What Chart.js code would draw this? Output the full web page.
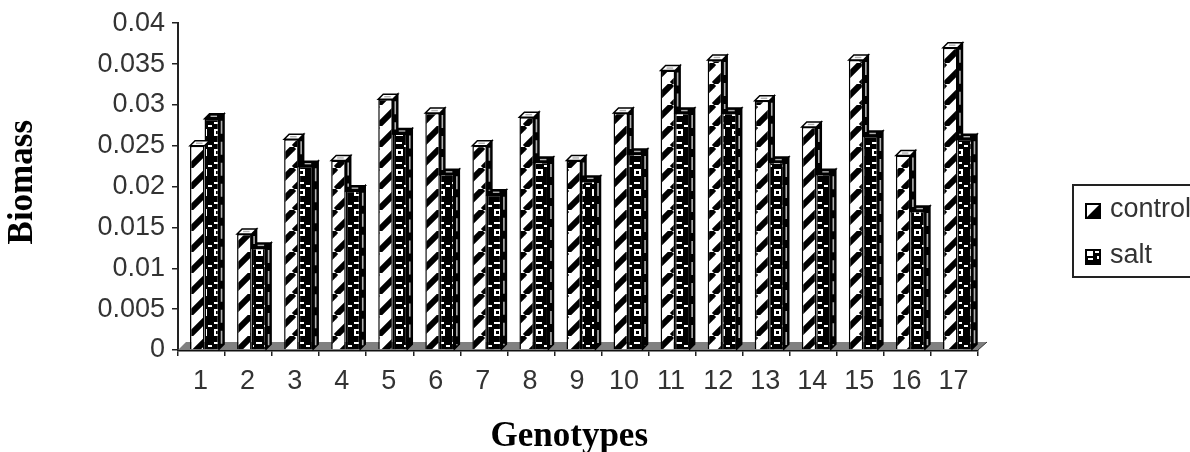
<!DOCTYPE html>
<html>
<head>
<meta charset="utf-8">
<script src="https://cdn.jsdelivr.net/npm/chart.js@4"></script>
<style>
  html, body { margin: 0; padding: 0; background: #fff; overflow: hidden; }
  #wrap { width: 1190px; height: 452px; }
  canvas { filter: blur(0.5px); }
</style>
</head>
<body>
<div id="wrap"><canvas id="c" width="1190" height="452"></canvas></div>
<script>
const genotypes = ['1','2','3','4','5','6','7','8','9','10','11','12','13','14','15','16','17'];
const control = [0.0250,0.0142,0.0258,0.0232,0.0307,0.0290,0.0250,0.0285,0.0232,0.0290,0.0342,0.0355,0.0305,0.0273,0.0355,0.0238,0.0370];
const salt = [0.0283,0.0125,0.0225,0.0195,0.0265,0.0215,0.0190,0.0230,0.0207,0.0240,0.0290,0.0290,0.0230,0.0215,0.0262,0.0170,0.0258];

const DEPTH = 5;
const BAR_SHIFT = 3;

function stripePattern() {
    const t = document.createElement('canvas');
    t.width = t.height = 21;
    const g = t.getContext('2d');
    g.fillStyle = '#fff';
    g.fillRect(0, 0, 21, 21);
    g.strokeStyle = '#000';
    g.lineWidth = 6;
    [-21, 0, 21].forEach(o => {
        g.beginPath();
        g.moveTo(o, 21);
        g.lineTo(o + 21, 0);
        g.stroke();
    });
    return g.createPattern(t, 'repeat');
}

function ringPattern() {
    const t = document.createElement('canvas');
    t.width = 14;
    t.height = 20;
    const g = t.getContext('2d');
    g.fillStyle = '#000';
    g.fillRect(0, 0, 14, 20);
    g.fillStyle = '#fff';
    g.fillRect(4, 9, 7, 7);
    g.fillRect(4, 2, 6, 2);
    g.fillRect(0, 5, 2, 2);
    g.fillRect(12, 5, 2, 2);
    g.fillStyle = '#000';
    g.fillRect(6, 11, 3, 3);
    return g.createPattern(t, 'repeat');
}

const stripes = stripePattern();
const rings = ringPattern();

const floorAndFrame = {
    id: 'floorAndFrame',
    afterDatasetsUpdate(chart) {
        chart.getSortedVisibleDatasetMetas().forEach(m => m.data.forEach(b => { b.x += BAR_SHIFT; }));
    },
    beforeDatasetsDraw(chart) {
        const { ctx, chartArea: a } = chart;
        ctx.save();
        ctx.fillStyle = '#808080';
        ctx.strokeStyle = '#333';
        ctx.lineWidth = 1;
        ctx.beginPath();
        ctx.moveTo(a.left, a.bottom);
        ctx.lineTo(a.left + 8, a.bottom - 8);
        ctx.lineTo(a.right + 9, a.bottom - 8);
        ctx.lineTo(a.right, a.bottom);
        ctx.closePath();
        ctx.fill();
        ctx.beginPath();
        ctx.moveTo(a.right + 9, a.bottom - 8);
        ctx.lineTo(a.right, a.bottom);
        ctx.stroke();
        ctx.restore();
    },
    afterDatasetDraw(chart, args) {
        // 3D faces. Control is painted after salt, so its side stops at the salt top.
        const { ctx } = chart;
        const saltBars = chart.getDatasetMeta(1).data;
        ctx.save();
        args.meta.data.forEach((bar, i) => {
            const p = bar.getProps(['x', 'y', 'base', 'width'], true);
            const l = p.x - p.width / 2;
            const r = p.x + p.width / 2;
            const sideEnd = args.index === 0 ? saltBars[i].y : p.base;
            ctx.lineWidth = 1.5;
            ctx.strokeStyle = '#000';
            if (sideEnd > p.y) {
                ctx.fillStyle = '#000';
                ctx.beginPath();
                ctx.moveTo(r, p.y);
                ctx.lineTo(r + DEPTH, p.y - DEPTH);
                ctx.lineTo(r + DEPTH, sideEnd - DEPTH);
                ctx.lineTo(r, sideEnd);
                ctx.closePath();
                ctx.fill();
                ctx.stroke();
                ctx.save();
                ctx.strokeStyle = '#b0b0b0';
                ctx.lineWidth = 1.6;
                ctx.setLineDash([13, 8]);
                ctx.beginPath();
                ctx.moveTo(r + DEPTH / 2, p.y + 2);
                ctx.lineTo(r + DEPTH / 2, sideEnd - 4);
                ctx.stroke();
                ctx.restore();
            }
            ctx.fillStyle = args.index === 0 ? '#fff' : '#000';
            ctx.beginPath();
            ctx.moveTo(l, p.y);
            ctx.lineTo(l + DEPTH, p.y - DEPTH);
            ctx.lineTo(r + DEPTH, p.y - DEPTH);
            ctx.lineTo(r, p.y);
            ctx.closePath();
            ctx.fill();
            ctx.stroke();
            ctx.strokeStyle = '#b0b0b0';
            ctx.lineWidth = 1.4;
            ctx.beginPath();
            ctx.moveTo(l + 6, p.y - DEPTH / 2);
            ctx.lineTo(r - 2, p.y - DEPTH / 2);
            ctx.stroke();
        });
        ctx.restore();
    },
    afterDraw(chart) {
        const { ctx } = chart;
        ctx.save();
        ctx.strokeStyle = '#222';
        ctx.lineWidth = 2;
        ctx.strokeRect(1073, 185, 140, 92);
        ctx.fillStyle = '#333';
        ctx.font = '27px "Liberation Sans"';
        ctx.textBaseline = 'middle';
        ctx.fillText(chart.data.datasets[0].label, 1110, 210);
        ctx.fillText(chart.data.datasets[1].label, 1110, 256);
        // control swatch: white corner over black
        ctx.fillStyle = '#000';
        ctx.fillRect(1085, 203, 16, 16);
        ctx.fillStyle = '#fff';
        ctx.beginPath();
        ctx.moveTo(1087, 205);
        ctx.lineTo(1099, 205);
        ctx.lineTo(1087, 217);
        ctx.closePath();
        ctx.fill();
        // salt swatch
        ctx.fillStyle = '#000';
        ctx.fillRect(1085, 249, 16, 16);
        ctx.fillStyle = '#fff';
        ctx.fillRect(1087, 251, 6, 5);
        ctx.fillRect(1095, 251, 4, 2);
        ctx.fillRect(1097, 256, 2, 3);
        ctx.fillRect(1088, 258, 5, 2);
        ctx.restore();
    }
};

new Chart(document.getElementById('c'), {
    type: 'bar',
    data: {
        labels: genotypes,
        datasets: [
            { label: 'control', data: control, backgroundColor: stripes, borderColor: '#000', borderWidth: 1.5 },
            { label: 'salt', data: salt, backgroundColor: rings, borderColor: '#000', borderWidth: 1.5 }
        ]
    },
    options: {
        responsive: false,
        animation: false,
        devicePixelRatio: 1,
        layout: { padding: { left: 0, right: 212, top: 22, bottom: -6 } },
        plugins: { legend: { display: false }, tooltip: { enabled: false } },
        datasets: { bar: { categoryPercentage: 0.617, barPercentage: 1 } },
        scales: {
            x: {
                afterFit(s) { s.height = 108; },
                grid: { drawOnChartArea: false, offset: true, tickLength: 6, color: '#222', lineWidth: 1.5 },
                border: { color: '#111', width: 2.5 },
                ticks: { color: '#333', font: { family: 'Liberation Sans', size: 27 }, padding: 9, maxRotation: 0, labelOffset: -1 },
                title: {
                    display: true,
                    text: 'Genotypes  ',
                    color: '#000',
                    font: { family: 'Liberation Serif', size: 35, weight: 'bold' },
                    padding: { top: 0, bottom: 0 }
                }
            },
            y: {
                min: 0,
                max: 0.04,
                afterFit(s) { s.width = 178; },
                grid: { drawOnChartArea: false, tickLength: 6, color: '#222', lineWidth: 1.5 },
                border: { color: '#222', width: 2 },
                ticks: {
                    stepSize: 0.005,
                    color: '#333',
                    font: { family: 'Liberation Sans', size: 27 },
                    padding: 7,
                    callback: v => String(+v.toFixed(3))
                },
                title: {
                    display: true,
                    text: ' Biomass',
                    color: '#000',
                    font: { family: 'Liberation Serif', size: 35, weight: 'bold' },
                    padding: { top: 2, bottom: 0 }
                }
            }
        }
    },
    plugins: [floorAndFrame]
});
</script>
</body>
</html>
